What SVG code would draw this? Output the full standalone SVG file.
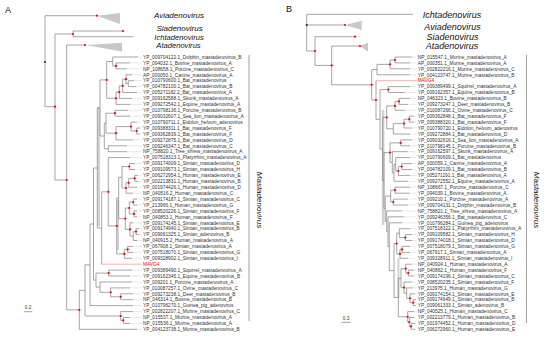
<svg xmlns="http://www.w3.org/2000/svg" width="550" height="339" viewBox="0 0 550 339">
<defs>
<style>
.br{fill:none;stroke:#808080;stroke-width:0.7}
.ex{fill:none;stroke:#d0d0d0;stroke-width:0.5}
.mv{fill:none;stroke:#f08080;stroke-width:0.6}
.bk{fill:none;stroke:#888;stroke-width:0.8}
.tri{fill:#c8c8c8;stroke:none}
.bar{fill:#d2d2d2}
.rd{fill:#ff0000}
.lf{font-family:'Liberation Sans',Arial,sans-serif;font-size:4.8px;fill:#333}
.red{fill:#ff0000}
.cl{font-family:'Liberation Sans',Arial,sans-serif;font-style:italic;fill:#111;text-anchor:middle}
.pl{font-family:'Liberation Sans',Arial,sans-serif;font-size:9px;fill:#111}
.sc{font-family:'Liberation Sans',Arial,sans-serif;font-size:4.8px;fill:#333;text-anchor:middle}
</style>
</defs>
<rect width="550" height="339" fill="#fff"/>

<g id="connectors">
<rect class="bar" x="97.5" y="107" width="2.6" height="119"/>
<rect class="bar" x="117" y="200" width="2" height="50"/>
<path class="br" d="M97,15.7H45V106.7H55M73,34H55V180H66.7M123,31H73V36.7H133M85,45H66.7V309.9H79.3"/>
<path class="ex" d="M123,31H128"/>
<polygon class="tri" points="97,15.7 120,13 120,24"/>
<polygon class="tri" points="85,45 122,42.7 122,51.5"/>
<path class="br" d="M130,62.9H116V68.8H127M138,57H112.7V65.9H116M134,80.7H128.3V86.6H136M132,74.8H126V83.6H128.3M126,79.2H122.7V92.5H137M122.7,85.9H119.3V98.4H132M119.3,92.2H116V104.4H130M112.7,61.5H106.7V98.3H116M128,110.3H115V116.2H130M140,128H136.7V134H140M137,122.1H131V131H136.7M131,126.6H116V139.9H133M115,113.2H106V133.2H116M127,145.8H108.3V151.7H127M106,123.2H104.3V148.8H108.3M106.7,79.9H100V136H104.3M135,163.6H129.3V169.5H135M138,175.4H134.7V181.3H138M134.7,178.4H128.7V187.2H137M128.7,182.8H126V193.2H133M129.3,166.5H122V188H126M137,199.1H133.3V205H137M137,210.9H134V216.8H137M133.3,202H129.3V213.9H134M139,228.7H136V234.6H139M136,231.6H133.3V240.5H137M133,222.8H130V236.1H133.3M129.3,208H125.3V229.4H130M122,177.3H118.7V218.7H125.3M133,246.4H127.7V252.4H133M127.7,249.4H124.3V258.3H132M118.7,198H116.7V253.9H124.3M130,157.6H108.3V225.9H116.7M108.3,191.8H101.7V264.2M100,108H97.3V228H101.7M132,270.1H108.7V276H130M133,293.8H120.7V299.7H133M130,287.9H110.7V296.8H120.7M132,282H100V292.3H110.7M108.7,273.1H96V287.1H100M97.3,168H93.5V280.1H96M93.5,224H90V305.6H133M130,317.5H123.3V323.4H130M133,311.6H120.7V320.4H123.3M90,264.8H85V316H120.7M85,290.4H79.3V329.3H137"/>
<path class="mv" d="M101.7,264.2H142"/>
<path class="ex" d="M138,57H142M130,62.9H142M127,68.8H142M132,74.8H142M134,80.7H142M136,86.6H142M137,92.5H142M132,98.4H142M130,104.4H142M128,110.3H142M130,116.2H142M137,122.1H142M140,128H142M140,134H142M133,139.9H142M127,145.8H142M127,151.7H142M130,157.6H142M135,163.6H142M135,169.5H142M138,175.4H142M138,181.3H142M137,187.2H142M133,193.2H142M137,199.1H142M137,205H142M137,210.9H142M137,216.8H142M133,222.8H142M139,228.7H142M139,234.6H142M137,240.5H142M133,246.4H142M133,252.4H142M132,258.3H142M132,270.1H142M130,276H142M132,282H142M130,287.9H142M133,293.8H142M133,299.7H142M133,305.6H142M133,311.6H142M130,317.5H142M130,323.4H142M137,329.3H142"/>
<path class="bk" d="M249,55V321"/>
<path class="bk" d="M24,311.7H32.3"/>
<circle cx="45" cy="62" r="1" fill="#222"/>
<g class="rd">
<circle cx="97" cy="15.7" r="1.1"/><circle cx="123" cy="31" r="1.1"/><circle cx="73" cy="34" r="1.1"/><circle cx="55" cy="106.7" r="1.1"/><circle cx="66.7" cy="180" r="1.1"/><circle cx="85" cy="45" r="1.1"/><circle cx="79.3" cy="309.9" r="1.1"/>
<circle cx="116" cy="65.9" r="1.1"/><circle cx="126" cy="79.2" r="1.1"/><circle cx="122.7" cy="85.9" r="1.1"/><circle cx="119.3" cy="92.2" r="1.1"/><circle cx="116" cy="98.3" r="1.1"/><circle cx="106.7" cy="79.9" r="1.1"/><circle cx="115" cy="113.2" r="1.1"/><circle cx="136.7" cy="131" r="1.1"/><circle cx="131" cy="126.6" r="1.1"/><circle cx="116" cy="133.2" r="1.1"/><circle cx="129.3" cy="166.5" r="1.1"/><circle cx="134.7" cy="178.4" r="1.1"/><circle cx="128.7" cy="182.8" r="1.1"/><circle cx="126" cy="188" r="1.1"/><circle cx="133.3" cy="202" r="1.1"/><circle cx="134" cy="213.9" r="1.1"/><circle cx="129.3" cy="208" r="1.1"/><circle cx="136" cy="231.6" r="1.1"/><circle cx="130" cy="229.4" r="1.1"/><circle cx="125.3" cy="218.7" r="1.1"/><circle cx="127.7" cy="249.4" r="1.1"/><circle cx="124.3" cy="253.9" r="1.1"/><circle cx="116.7" cy="225.9" r="1.1"/><circle cx="108.3" cy="191.8" r="1.1"/><circle cx="108.7" cy="273.1" r="1.1"/><circle cx="120.7" cy="296.8" r="1.1"/><circle cx="110.7" cy="292.3" r="1.1"/><circle cx="123.3" cy="320.4" r="1.1"/><circle cx="120.7" cy="316" r="1.1"/>
</g>

<rect class="bar" x="381.8" y="110" width="2.6" height="115"/>
<rect class="bar" x="397.5" y="258" width="2" height="40"/>
<path class="br" d="M413,14.3H306.7V51H315M306.7,25H345M355,36.7H315V65.4H331.7M360,46H331.7V84.8H371.7"/>
<path class="ex" d="M355,36.7H360"/>
<polygon class="tri" points="345,25 361.7,20.7 361.7,30"/>
<polygon class="tri" points="360,46 368,42.7 368,51.7"/>
<path class="br" d="M412,57H395V62.9H410M395,60H390V68.8H410M390,64.4H377V74.8H410M410,86.6H388.3V92.5H405M410,98.4H399V104.4H408M399,101.4H395V110.3H405M414,116.2H409.3V122.1H414M409.3,119.2H404V128H412M404,123.6H393.3V134H410M395,105.9H386.7V128.8H393.3M412,139.9H400.7V145.8H410M412,163.6H401.7V169.5H412M401.7,166.6H398.3V175.4H410M410,157.6H395.7V171H398.3M395.7,164.3H394V181.3H408M408,151.7H392.3V172.8H394M400.7,142.9H390V162.3H392.3M410,187.2H395V193.2H410M408,199.1H393.3V205H408M395,190.2H390.7V202H393.3M412,234.6H405.3V240.5H412M410,228.7H399.3V237.6H405.3M410,246.4H402V252.4H410M402,249.4H400V258.3H408M399.3,233.2H396.7V253.9H400M414,270.1H408.3V276H414M412,264.2H405.7V273.1H408.3M416,299.7H413.3V305.6H416M415,293.8H410V302.7H413.3M413,287.9H406.7V298.3H410M412,282H404V293.1H406.7M405.7,268.7H401V287.6H404M415,323.4H411V329.3H415M414,317.5H409.3V326.4H411M414,311.6H407.7V322H409.3M401,278.2H398.3V316.8H407.7M396.7,243.6H394V297.5H398.3M394,270.6H389.3V222.8H402M389.3,246.7H388V216.8H404M388,231.8H386.7V210.9H402M386.7,221.4H385.3V196.1H390.7M385.3,208.7H384V152.6H390M384,180.7H382.7V117.4H386.7M382.7,149H380V89.6H388.3M380,119.3H376V80.7M376,100H371.7V69.6H377"/>
<path class="mv" d="M376,80.7H416.5"/>
<path class="ex" d="M412,57H416.5M410,62.9H416.5M410,68.8H416.5M410,74.8H416.5M410,86.6H416.5M405,92.5H416.5M410,98.4H416.5M408,104.4H416.5M405,110.3H416.5M414,116.2H416.5M414,122.1H416.5M412,128H416.5M410,134H416.5M412,139.9H416.5M410,145.8H416.5M408,151.7H416.5M410,157.6H416.5M412,163.6H416.5M412,169.5H416.5M410,175.4H416.5M408,181.3H416.5M410,187.2H416.5M410,193.2H416.5M408,199.1H416.5M408,205H416.5M402,210.9H416.5M404,216.8H416.5M402,222.8H416.5M410,228.7H416.5M412,234.6H416.5M412,240.5H416.5M410,246.4H416.5M410,252.4H416.5M408,258.3H416.5M412,264.2H416.5M414,270.1H416.5M414,276H416.5M412,282H416.5M413,287.9H416.5M415,293.8H416.5M414,311.6H416.5M414,317.5H416.5M415,323.4H416.5M415,329.3H416.5"/>
<path class="bk" d="M526.5,55V323"/>
<path class="bk" d="M341.7,322.3H350.7"/>
<circle cx="306.7" cy="25" r="1" fill="#222"/>
<g class="rd">
<circle cx="345" cy="25" r="1.1"/><circle cx="355" cy="36.7" r="1.1"/><circle cx="360" cy="46" r="1.1"/><circle cx="331.7" cy="65.4" r="1.1"/><circle cx="315" cy="51" r="1.1"/><circle cx="371.7" cy="84.8" r="1.1"/><circle cx="376" cy="100" r="1.1"/>
<circle cx="395" cy="60" r="1.1"/><circle cx="390" cy="64.4" r="1.1"/><circle cx="388.3" cy="89.6" r="1.1"/><circle cx="399" cy="101.4" r="1.1"/><circle cx="395" cy="105.9" r="1.1"/><circle cx="409.3" cy="119.2" r="1.1"/><circle cx="404" cy="123.6" r="1.1"/><circle cx="386.7" cy="117.4" r="1.1"/><circle cx="400.7" cy="142.9" r="1.1"/><circle cx="401.7" cy="166.6" r="1.1"/><circle cx="398.3" cy="171" r="1.1"/><circle cx="390" cy="152.6" r="1.1"/><circle cx="395" cy="190.2" r="1.1"/><circle cx="393.3" cy="202" r="1.1"/><circle cx="405.3" cy="237.6" r="1.1"/><circle cx="402" cy="249.4" r="1.1"/><circle cx="400" cy="253.9" r="1.1"/><circle cx="396.7" cy="243.6" r="1.1"/><circle cx="408.3" cy="273.1" r="1.1"/><circle cx="405.7" cy="268.7" r="1.1"/><circle cx="413.3" cy="302.7" r="1.1"/><circle cx="410" cy="298.3" r="1.1"/><circle cx="404" cy="287.6" r="1.1"/><circle cx="411" cy="326.4" r="1.1"/><circle cx="409.3" cy="322" r="1.1"/><circle cx="407.7" cy="316.8" r="1.1"/>
</g>
</g>

<g id="panel-A">
<text class="pl" x="5" y="13">A</text>
<g id="A-aviadenovirus"><text class="cl" x="179" y="18.3" font-size="8">Aviadenovirus</text></g>
<g id="A-siadenovirus"><text class="cl" x="179.5" y="30.7" font-size="8">Siadenovirus</text></g>
<g id="A-ichtadenovirus"><text class="cl" x="179" y="39.6" font-size="7.6">Ichtadenovirus</text></g>
<g id="A-atadenovirus"><text class="cl" x="178.5" y="48.1" font-size="7.6">Atadenovirus</text></g>
<g id="A-mastadenovirus"><text class="cl" font-size="8" transform="translate(257,200) rotate(90)">Mastadenovirus</text></g>
<text class="sc" x="28.2" y="309">0.2</text>
<g id="A-leaves">
<g id="A0"><text class="lf" x="143" y="58.7">YP_009704122.1_Dolphin_mastadenovirus_B</text></g>
<g id="A1"><text class="lf" x="143" y="64.6">YP_094032.1_Bovine_mastadenovirus_A</text></g>
<g id="A2"><text class="lf" x="143" y="70.5">NP_108658.1_Porcine_mastadenovirus_C</text></g>
<g id="A3"><text class="lf" x="143" y="76.5">AP_000050.1_Canine_mastadenovirus_A</text></g>
<g id="A4"><text class="lf" x="143" y="82.4">YP_010790600.1_Bat_mastadenovirus</text></g>
<g id="A5"><text class="lf" x="143" y="88.3">YP_004782100.1_Bat_mastadenovirus_B</text></g>
<g id="A6"><text class="lf" x="143" y="94.2">YP_005271182.2_Bat_mastadenovirus_A</text></g>
<g id="A7"><text class="lf" x="143" y="100.1">YP_009162588.1_Skunk_mastadenovirus_A</text></g>
<g id="A8"><text class="lf" x="143" y="106.1">YP_009272542.1_Equine_mastadenovirus_A</text></g>
<g id="A9"><text class="lf" x="143" y="112">YP_010798136.1_Porcine_mastadenovirus_B</text></g>
<g id="A10"><text class="lf" x="143" y="117.9">YP_009032607.1_Sea_lion_mastadenovirus_A</text></g>
<g id="A11"><text class="lf" x="143" y="123.8">YP_010790711.1_Eidolon_helvum_adenovirus</text></g>
<g id="A12"><text class="lf" x="143" y="129.7">YP_009388311.1_Bat_mastadenovirus_F</text></g>
<g id="A13"><text class="lf" x="143" y="135.7">YP_009362839.1_Bat_mastadenovirus_F</text></g>
<g id="A14"><text class="lf" x="143" y="141.6">YP_009272875.1_Bat_mastadenovirus_D</text></g>
<g id="A15"><text class="lf" x="143" y="147.5">YP_009246347.1_Bat_mastadenovirus_C</text></g>
<g id="A16"><text class="lf" x="143" y="153.4">NP_758820.1_Tree_shrew_mastadenovirus_A</text></g>
<g id="A17"><text class="lf" x="143" y="159.3">YP_007518313.1_Platyrrhini_mastadenovirus_A</text></g>
<g id="A18"><text class="lf" x="143" y="165.3">YP_009174009.1_Simian_mastadenovirus_D</text></g>
<g id="A19"><text class="lf" x="143" y="171.2">YP_009109573.1_Simian_mastadenovirus_H</text></g>
<g id="A20"><text class="lf" x="143" y="177.1">YP_006272954.1_Human_mastadenovirus_E</text></g>
<g id="A21"><text class="lf" x="143" y="183">YP_002213831.1_Human_mastadenovirus_B</text></g>
<g id="A22"><text class="lf" x="143" y="188.9">YP_001974426.1_Human_mastadenovirus_D</text></g>
<g id="A23"><text class="lf" x="143" y="194.9">NP_040516.2_Human_mastadenovirus_C</text></g>
<g id="A24"><text class="lf" x="143" y="200.8">YP_009174187.1_Simian_mastadenovirus_C</text></g>
<g id="A25"><text class="lf" x="143" y="206.7">YP_213966.1_Human_mastadenovirus_G</text></g>
<g id="A26"><text class="lf" x="143" y="212.6">YP_008520226.1_Simian_mastadenovirus_F</text></g>
<g id="A27"><text class="lf" x="143" y="218.5">NP_040853.1_Human_mastadenovirus_F</text></g>
<g id="A28"><text class="lf" x="143" y="224.5">YP_009174145.1_Simian_mastadenovirus_E</text></g>
<g id="A29"><text class="lf" x="143" y="230.4">YP_009174940.1_Simian_mastadenovirus_B</text></g>
<g id="A30"><text class="lf" x="143" y="236.3">YP_009061325.1_Simian_adenovirus_B</text></g>
<g id="A31"><text class="lf" x="143" y="242.2">NP_040915.2_Human_mastadenovirus_A</text></g>
<g id="A32"><text class="lf" x="143" y="248.1">YP_067908.1_Simian_mastadenovirus_A</text></g>
<g id="A33"><text class="lf" x="143" y="254.1">YP_007518070.1_Simian_mastadenovirus_G</text></g>
<g id="A34"><text class="lf" x="143" y="260">YP_009328902.1_Simian_mastadenovirus_I</text></g>
<g id="A35"><text class="lf red" x="143" y="265.9">MAVG4</text></g>
<g id="A36"><text class="lf" x="143" y="271.8">YP_009389490.1_Squirrel_mastadenovirus_A</text></g>
<g id="A37"><text class="lf" x="143" y="277.7">YP_009162345.1_Equine_mastadenovirus_B</text></g>
<g id="A38"><text class="lf" x="143" y="283.7">YP_009201.1_Porcine_mastadenovirus_A</text></g>
<g id="A39"><text class="lf" x="143" y="289.6">YP_010087257.1_Ovine_mastadenovirus_C</text></g>
<g id="A40"><text class="lf" x="143" y="295.5">YP_009273238.1_Deer_mastadenovirus_B</text></g>
<g id="A41"><text class="lf" x="143" y="301.4">NP_046314.1_Bovine_mastadenovirus_B</text></g>
<g id="A42"><text class="lf" x="143" y="307.3">YP_010796270.1_Guinea_pig_adenovirus</text></g>
<g id="A43"><text class="lf" x="143" y="313.3">YP_002822207.1_Murine_mastadenovirus_C</text></g>
<g id="A44"><text class="lf" x="143" y="319.2">NP_015537.1_Murine_mastadenovirus_A</text></g>
<g id="A45"><text class="lf" x="143" y="325.1">NP_015536.1_Murine_mastadenovirus_A</text></g>
<g id="A46"><text class="lf" x="143" y="331">YP_004123738.1_Murine_mastadenovirus_B</text></g>
</g>
</g>

<g id="panel-B">
<text class="pl" x="286" y="12">B</text>
<g id="B-ichtadenovirus"><text class="cl" x="452" y="18" font-size="9">Ichtadenovirus</text></g>
<g id="B-aviadenovirus"><text class="cl" x="452.5" y="29.5" font-size="9">Aviadenovirus</text></g>
<g id="B-siadenovirus"><text class="cl" x="452.5" y="39.5" font-size="9">Siadenovirus</text></g>
<g id="B-atadenovirus"><text class="cl" x="452" y="48.7" font-size="9">Atadenovirus</text></g>
<g id="B-mastadenovirus"><text class="cl" font-size="8" transform="translate(534,200) rotate(90)">Mastadenovirus</text></g>
<text class="sc" x="346.2" y="320">0.3</text>
<g id="B-leaves">
<g id="B0"><text class="lf" x="417.7" y="58.7">NP_015547.1_Murine_mastadenovirus_A</text></g>
<g id="B1"><text class="lf" x="417.7" y="64.6">AP_000351.1_Murine_mastadenovirus_A</text></g>
<g id="B2"><text class="lf" x="417.7" y="70.5">YP_002822216.1_Murine_mastadenovirus_C</text></g>
<g id="B3"><text class="lf" x="417.7" y="76.5">YP_004123747.1_Murine_mastadenovirus_B</text></g>
<g id="B4"><text class="lf red" x="417.7" y="82.4">MAVG4</text></g>
<g id="B5"><text class="lf" x="417.7" y="88.3">YP_009389499.1_Squirrel_mastadenovirus_A</text></g>
<g id="B6"><text class="lf" x="417.7" y="94.2">YP_009162357.1_Equine_mastadenovirus_B</text></g>
<g id="B7"><text class="lf" x="417.7" y="100.1">NP_046323.1_Bovine_mastadenovirus_B</text></g>
<g id="B8"><text class="lf" x="417.7" y="106.1">YP_009273247.1_Deer_mastadenovirus_B</text></g>
<g id="B9"><text class="lf" x="417.7" y="112">YP_010087266.1_Ovine_mastadenovirus_C</text></g>
<g id="B10"><text class="lf" x="417.7" y="117.9">YP_009362848.1_Bat_mastadenovirus_F</text></g>
<g id="B11"><text class="lf" x="417.7" y="123.8">YP_009388320.1_Bat_mastadenovirus_F</text></g>
<g id="B12"><text class="lf" x="417.7" y="129.7">YP_010790720.1_Eidolon_helvum_adenovirus</text></g>
<g id="B13"><text class="lf" x="417.7" y="135.7">YP_009272884.1_Bat_mastadenovirus_D</text></g>
<g id="B14"><text class="lf" x="417.7" y="141.6">YP_009032616.1_Sea_lion_mastadenovirus_A</text></g>
<g id="B15"><text class="lf" x="417.7" y="147.5">YP_010798145.1_Porcine_mastadenovirus_B</text></g>
<g id="B16"><text class="lf" x="417.7" y="153.4">YP_009162597.1_Skunk_mastadenovirus_A</text></g>
<g id="B17"><text class="lf" x="417.7" y="159.3">YP_010790609.1_Bat_mastadenovirus</text></g>
<g id="B18"><text class="lf" x="417.7" y="165.3">AP_000059.1_Canine_mastadenovirus_A</text></g>
<g id="B19"><text class="lf" x="417.7" y="171.2">YP_004782109.1_Bat_mastadenovirus_B</text></g>
<g id="B20"><text class="lf" x="417.7" y="177.1">YP_005271191.1_Bat_mastadenovirus_A</text></g>
<g id="B21"><text class="lf" x="417.7" y="183">YP_009272552.1_Equine_mastadenovirus_A</text></g>
<g id="B22"><text class="lf" x="417.7" y="188.9">NP_108667.1_Porcine_mastadenovirus_C</text></g>
<g id="B23"><text class="lf" x="417.7" y="194.9">YP_094039.1_Bovine_mastadenovirus_A</text></g>
<g id="B24"><text class="lf" x="417.7" y="200.8">YP_009210.1_Porcine_mastadenovirus_A</text></g>
<g id="B25"><text class="lf" x="417.7" y="206.7">YP_009704131.1_Dolphin_mastadenovirus_B</text></g>
<g id="B26"><text class="lf" x="417.7" y="212.6">NP_758821.1_Tree_shrew_mastadenovirus_A</text></g>
<g id="B27"><text class="lf" x="417.7" y="218.5">YP_009246356.1_Bat_mastadenovirus_C</text></g>
<g id="B28"><text class="lf" x="417.7" y="224.5">YP_010796284.1_Guinea_pig_adenovirus</text></g>
<g id="B29"><text class="lf" x="417.7" y="230.4">YP_007518322.1_Platyrrhini_mastadenovirus_A</text></g>
<g id="B30"><text class="lf" x="417.7" y="236.3">YP_009109582.1_Simian_mastadenovirus_H</text></g>
<g id="B31"><text class="lf" x="417.7" y="242.2">YP_009174018.1_Simian_mastadenovirus_D</text></g>
<g id="B32"><text class="lf" x="417.7" y="248.1">YP_007518079.1_Simian_mastadenovirus_G</text></g>
<g id="B33"><text class="lf" x="417.7" y="254.1">YP_067917.1_Simian_mastadenovirus_A</text></g>
<g id="B34"><text class="lf" x="417.7" y="260">YP_009328911.1_Simian_mastadenovirus_I</text></g>
<g id="B35"><text class="lf" x="417.7" y="265.9">NP_040924.1_Human_mastadenovirus_A</text></g>
<g id="B36"><text class="lf" x="417.7" y="271.8">NP_040862.1_Human_mastadenovirus_F</text></g>
<g id="B37"><text class="lf" x="417.7" y="277.7">YP_009174196.1_Simian_mastadenovirus_C</text></g>
<g id="B38"><text class="lf" x="417.7" y="283.7">YP_008520235.1_Simian_mastadenovirus_F</text></g>
<g id="B39"><text class="lf" x="417.7" y="289.6">YP_213975.1_Human_mastadenovirus_G</text></g>
<g id="B40"><text class="lf" x="417.7" y="295.5">YP_009174154.1_Simian_mastadenovirus_E</text></g>
<g id="B41"><text class="lf" x="417.7" y="301.4">YP_009174949.1_Simian_mastadenovirus_B</text></g>
<g id="B42"><text class="lf" x="417.7" y="307.3">YP_009061333.1_Simian_adenovirus_B</text></g>
<g id="B43"><text class="lf" x="417.7" y="313.3">NP_040525.1_Human_mastadenovirus_C</text></g>
<g id="B44"><text class="lf" x="417.7" y="319.2">YP_002213779.1_Human_mastadenovirus_B</text></g>
<g id="B45"><text class="lf" x="417.7" y="325.1">YP_001974452.1_Human_mastadenovirus_D</text></g>
<g id="B46"><text class="lf" x="417.7" y="331">YP_006272960.1_Human_mastadenovirus_E</text></g>
</g>
</g>
</svg>
